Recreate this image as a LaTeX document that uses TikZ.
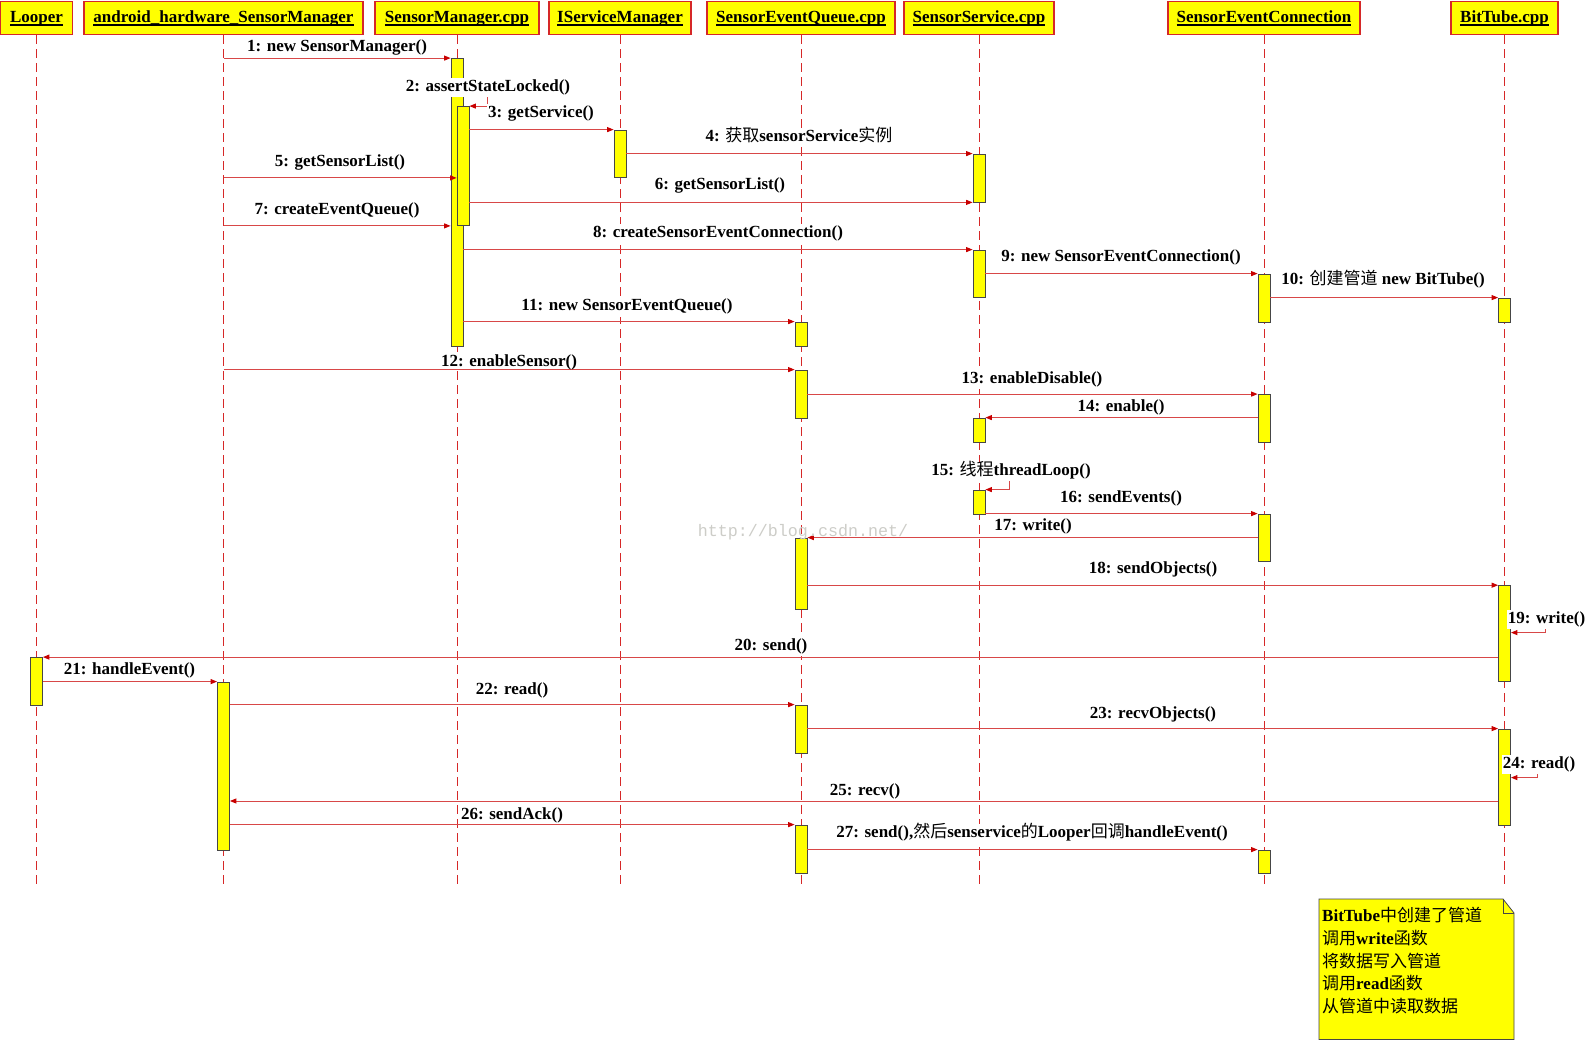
\documentclass[tikz,border=0pt]{standalone}
\usepackage{fontspec}
\setmainfont{Liberation Serif}
\newfontfamily\cjk{Noto Sans CJK SC}
\newfontfamily\wmfont{Liberation Mono}
\usetikzlibrary{arrows.meta,calc}
\definecolor{ly}{RGB}{255,255,0}
\definecolor{lred}{RGB}{214,40,40}
\definecolor{lline}{RGB}{216,72,72}
\definecolor{ahred}{RGB}{200,0,0}
\definecolor{wm}{RGB}{205,205,200}
\definecolor{abord}{RGB}{70,70,70}
\newcommand\zh[1]{{\cjk\mdseries #1}}
\newcommand\hul[1]{\setbox0=\hbox{#1}\leavevmode\rlap{\vrule width\wd0 height -2.2pt depth 3.6pt}\box0}
\newcommand\actbar[4]{\node[act, minimum height={(#4-#3)*1pt}] (#1) at (#2,{(#3+#4)/2}) {};}
\tikzset{
  head/.style={draw=lred, line width=1.1pt, fill=ly, minimum height=33pt, inner sep=0pt,
    text height=12pt, text depth=4pt, font=\bfseries\fontsize{17}{20}\selectfont, anchor=north},
  act/.style={draw=abord, line width=0.8pt, fill=ly, minimum width=12pt, inner sep=0pt},
  life/.style={draw=lred, line width=0.9pt, dash pattern=on 9pt off 5pt},
  msg/.style={lline, line width=1pt, -{Triangle[length=6.5pt,width=5pt,color=ahred]}},
  lbl/.style={fill=white, inner xsep=1pt, inner ysep=1.5pt, text height=12pt, text depth=4pt,
    anchor=base, font=\bfseries\fontsize{17}{20}\selectfont},
  tight/.style={text depth=2pt, inner ysep=0pt}
}
\begin{document}
\begin{tikzpicture}[x=1pt,y=-1pt]
\useasboundingbox (0,0) rectangle (1586,1040);
\fill[white] (0,0) rectangle (1586,1040);
% headers
\node[head, minimum width=72pt]  (hL)   at (36.5,1)  {\hul{Looper}};
\node[head, minimum width=279pt] (hAH)  at (223.5,1) {\hul{android\_hardware\_SensorManager}};
\node[head, minimum width=164pt] (hSM)  at (457,1)   {\hul{SensorManager.cpp}};
\node[head, minimum width=142pt] (hISM) at (620,1)   {\hul{IServiceManager}};
\node[head, minimum width=188pt] (hSEQ) at (801,1)   {\hul{SensorEventQueue.cpp}};
\node[head, minimum width=150pt] (hSS)  at (979,1)   {\hul{SensorService.cpp}};
\node[head, minimum width=192pt] (hSEC) at (1264,1)  {\hul{SensorEventConnection}};
\node[head, minimum width=107pt] (hBT)  at (1504.5,1){\hul{BitTube.cpp}};
\coordinate (lifeEnd) at (0,888);
\foreach \h in {hL,hAH,hSM,hISM,hSEQ,hSS,hSEC,hBT}
  \draw[life] (\h.south) -- (\h.south |- lifeEnd);
% activations
\actbar{smA}{457}{58.5}{346}
\actbar{smB}{463}{106.5}{225.5}
\actbar{ismA}{620}{130}{177.5}
\actbar{ssA}{979}{154}{202}
\actbar{ssB}{979}{250}{297}
\actbar{secA}{1264}{274}{322}
\actbar{btA}{1504.5}{298}{322}
\actbar{seqA}{801}{322}{346}
\actbar{seqB}{801}{370}{418}
\actbar{secB}{1264}{394.5}{442}
\actbar{ssC}{979}{418}{442}
\actbar{ssD}{979}{490}{514}
\actbar{secC}{1264}{514}{561}
\actbar{seqC}{801}{538}{609}
\actbar{btB}{1504.5}{585.6}{681}
\actbar{lpA}{36.5}{657.5}{705}
\actbar{ahA}{223.5}{682}{850}
\actbar{seqD}{801}{705}{753.5}
\actbar{btC}{1504.5}{729}{825}
\actbar{seqE}{801}{825}{873}
\actbar{secD}{1264}{850}{873}
% messages
\draw[msg] (hAH |- smA.north) -- (smA.north west);
\coordinate (l2) at ($(smB.north east)+(18.5,-10.5)$);
\draw[msg] (smA.east |- l2) -- (l2) |- (smB.north east);
\draw[msg] (smB.east |- ismA.north) -- (ismA.north west);
\draw[msg] (ismA.east |- ssA.north) -- (ssA.north west);
\draw[msg] (hAH |- ismA.south) -- (smB.west |- ismA.south);
\draw[msg] (smB.east |- ssA.south) -- (ssA.south west);
\draw[msg] (hAH |- smB.south) -- (smA.west |- smB.south);
\draw[msg] (smA.east |- ssB.north) -- (ssB.north west);
\draw[msg] (ssB.east |- secA.north) -- (secA.north west);
\draw[msg] (secA.east |- btA.north) -- (btA.north west);
\draw[msg] (smA.east |- seqA.north) -- (seqA.north west);
\draw[msg] (hAH |- seqB.north) -- (seqB.north west);
\draw[msg] (seqB.east |- secB.north) -- (secB.north west);
\draw[msg] (secB.west |- ssC.north) -- (ssC.north east);
\coordinate (l15) at ($(ssD.north east)+(24.5,-11)$);
\draw[msg] (hSS |- l15) -- (l15) |- (ssD.north east);
\draw[msg] (ssD.east |- secC.north) -- (secC.north west);
\draw[msg] (secC.west |- seqC.north) -- (seqC.north east);
\draw[msg] (seqC.east |- btB.north) -- (btB.north west);
\coordinate (l19) at ($(btB.north east)+(34.5,34.4)$);
\draw[msg] (btB.east |- l19) -- (l19) |- ([yshift=-13pt]btB.east |- l19);
\draw[msg] (btB.west |- lpA.north) -- (lpA.north east);
\draw[msg] (lpA.east |- ahA.north) -- (ahA.north west);
\draw[msg] (ahA.east |- seqD.north) -- (seqD.north west);
\draw[msg] (seqD.east |- btC.north) -- (btC.north west);
\coordinate (l24) at ($(btC.north east)+(27,34)$);
\draw[msg] (btC.east |- l24) -- (l24) |- ([yshift=-15pt]btC.east |- l24);
\coordinate (m25) at (0,801);
\draw[msg] (btC.west |- m25) -- (ahA.east |- m25);
\draw[msg] (ahA.east |- seqE.north) -- (seqE.north west);
\draw[msg] (seqE.east |- secD.north) -- (secD.north west);
% labels
\node[lbl] (t1)  at (337,51.5)   {1: new SensorManager()};
\node[lbl] (t2)  at (488,92)     {2: assertStateLocked()};
\node[lbl] (t3)  at (541,118)    {3: getService()};
\node[lbl] (t4)  at (799,141.5)  {4: \zh{获取}sensorService\zh{实例}};
\node[lbl] (t5)  at (340,166.5)  {5: getSensorList()};
\node[lbl] (t6)  at (720,190)    {6: getSensorList()};
\node[lbl] (t7)  at (337,214.5)  {7: createEventQueue()};
\node[lbl] (t8)  at (718,238)    {8: createSensorEventConnection()};
\node[lbl] (t9)  at (1121,262)   {9: new SensorEventConnection()};
\node[lbl] (t10) at (1383,285)   {10: \zh{创建管道} new BitTube()};
\node[lbl] (t11) at (627,311)    {11: new SensorEventQueue()};
\node[lbl, tight] (t12) at (509,366.5) {12: enableSensor()};
\node[lbl] (t13) at (1032,383)   {13: enableDisable()};
\node[lbl] (t14) at (1121,411)   {14: enable()};
\node[lbl] (t15) at (1011,475)   {15: \zh{线程}threadLoop()};
\node[lbl] (t16) at (1121,502)   {16: sendEvents()};
\node[lbl] (t17) at (1033,530.5) {17: write()};
\node[lbl] (t18) at (1153,573)   {18: sendObjects()};
\node[lbl] (t19) at (1546.5,623) {19: write()};
\node[lbl] (t20) at (771,650)    {20: send()};
\node[lbl] (t21) at (129.5,674.5){21: handleEvent()};
\node[lbl] (t22) at (512,694)    {22: read()};
\node[lbl] (t23) at (1153,718.5) {23: recvObjects()};
\node[lbl] (t24) at (1539,768)   {24: read()};
\node[lbl, tight] (t25) at (865,795) {25: recv()};
\node[lbl, tight] (t26) at (512,819) {26: sendAck()};
\node[lbl] (t27) at (1032,837)   {27: send(),\zh{然后}senservice\zh{的}Looper\zh{回调}handleEvent()};
% note
\draw[draw=abord, line width=0.8pt, fill=ly] (1319,899) -- (1503,899) -- (1514,913) -- (1514,1039.5) -- (1319,1039.5) -- cycle;
\draw[abord, line width=0.8pt] (1503,899) -- (1503,913) -- (1514,913);
\node[anchor=north west, inner sep=0pt, align=left, font=\fontsize{17}{22.8}\selectfont] (note) at (1322,907)
  {\textbf{BitTube}\zh{中创建了管道}\\ \zh{调用}\textbf{write}\zh{函数}\\ \zh{将数据写入管道}\\ \zh{调用}\textbf{read}\zh{函数}\\ \zh{从管道中读取数据}};
% watermark
\node[text=wm, inner sep=0pt, font=\wmfont\fontsize{16.7}{20}\selectfont] (wmark) at (803,532) {http://blog.csdn.net/};
\end{tikzpicture}
\end{document}
